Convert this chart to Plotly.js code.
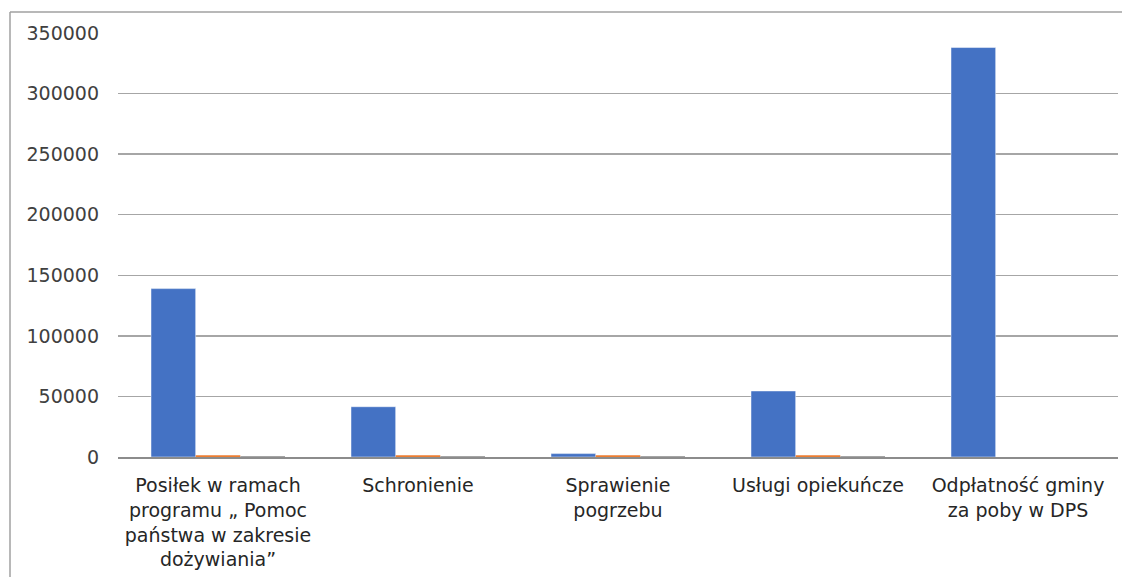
<!DOCTYPE html>
<html>
<head>
<meta charset="utf-8">
<script src="https://cdn.plot.ly/plotly-3.0.1.min.js"></script>
<style>html,body{margin:0;padding:0;background:#fff;}#chart{width:1128px;height:577px;}</style>
</head>
<body>
<div id="chart"></div>
<script>
const categories = [
  "Posiłek w ramach<br>programu „ Pomoc<br>państwa w zakresie<br>dożywiania”",
  "Schronienie",
  "Sprawienie<br>pogrzebu",
  "Usługi opiekuńcze",
  "Odpłatność gminy<br>za poby w DPS"
];
const seriesBlue = [139000, 41500, 2800, 54500, 338000];
const seriesOrange = [1400, 1400, 1400, 1400, 0];
const seriesGray = [800, 800, 800, 800, 0];
const yTicks = [0, 50000, 100000, 150000, 200000, 250000, 300000, 350000];

const mk = (y, color, lw) => ({
  type: 'bar', x: categories, y: y,
  marker: {color: color, line: {color: 'rgba(255,255,255,0.6)', width: lw}},
  hoverinfo: 'none'
});

const data = [mk(seriesBlue, '#4472C4', 0.8), mk(seriesOrange, '#ED7D31', 0), mk(seriesGray, '#A5A5A5', 0)];

const layout = {
  width: 1128, height: 577,
  margin: {l: 118, r: 10, t: 33, b: 120},
  paper_bgcolor: '#ffffff', plot_bgcolor: '#ffffff',
  showlegend: false,
  barmode: 'group', bargap: 0.33, bargroupgap: 0,
  font: {family: 'DejaVu Sans', size: 19, color: '#404040'},
  xaxis: {
    type: 'category', showgrid: false, showline: true, linecolor: '#8c8c8c', linewidth: 1.5,
    ticks: '', tickfont: {family: 'DejaVu Sans', size: 19, color: '#262626'},
    ticklabelstandoff: 11, fixedrange: true
  },
  yaxis: {
    range: [0, 350000], tickvals: yTicks, ticktext: yTicks.map(String),
    showgrid: true, gridcolor: '#a6a6a6', gridwidth: 1.5, zeroline: false,
    showline: false, ticks: '', ticklabelstandoff: 18,
    tickfont: {family: 'DejaVu Sans', size: 19, color: '#404040'}, fixedrange: true
  },
  shapes: [
    {type: 'line', xref: 'paper', yref: 'paper', x0: -0.108, x1: 1.004, y0: 1.0495, y1: 1.0495, line: {color: '#a0a0a0', width: 1.5}},
    {type: 'line', xref: 'paper', yref: 'paper', x0: -0.108, x1: -0.108, y0: 1.0495, y1: -0.3, line: {color: '#a0a0a0', width: 1.5}}
  ]
};

Plotly.newPlot('chart', data, layout, {displayModeBar: false, staticPlot: true});
</script>
</body>
</html>
